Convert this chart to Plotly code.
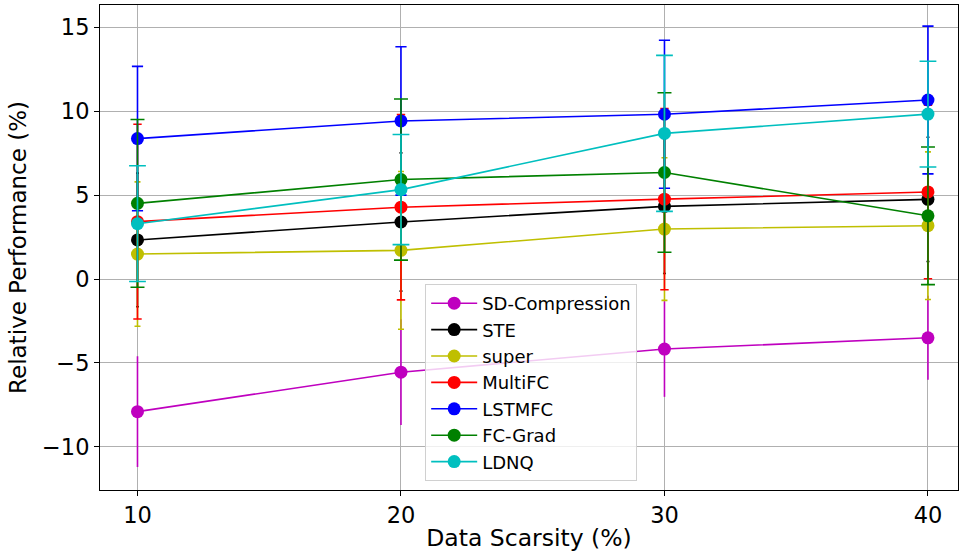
import plotly.graph_objects as go

# Data scarsity levels (%)
scarsity = [10, 20, 30, 40]

# Mean relative performance (%) and standard deviation for each method
methods = ["SD-Compression", "STE", "super", "MultiFC", "LSTMFC", "FC-Grad", "LDNQ"]
sd_compression = [-7.9, -5.55, -4.17, -3.5]
sd_compression_err = [3.3, 3.15, 2.85, 2.5]
ste = [2.33, 3.4, 4.33, 4.75]
ste_err = [3.98, 4.12, 4.0, 3.7]
super_ = [1.49, 1.71, 2.98, 3.18]
super_err = [4.3, 4.7, 4.25, 4.4]
multifc = [3.42, 4.28, 4.76, 5.19]
multifc_err = [5.8, 5.52, 5.4, 5.17]
lstmfc = [8.37, 9.42, 9.82, 10.67]
lstmfc_err = [4.3, 4.42, 4.41, 4.4]
fc_grad = [4.51, 5.93, 6.35, 3.77]
fc_grad_err = [5.0, 4.8, 4.75, 4.1]
ldnq = [3.3, 5.33, 8.68, 9.83]
ldnq_err = [3.45, 3.28, 4.65, 3.15]

series = [sd_compression, ste, super_, multifc, lstmfc, fc_grad, ldnq]
errors = [sd_compression_err, ste_err, super_err, multifc_err, lstmfc_err, fc_grad_err, ldnq_err]
colors = ["#bf00bf", "#000000", "#bfbf00", "#ff0000", "#0000ff", "#008000", "#00bfbf"]
cap_half_widths = [0, 1.5, 3, 4.2, 5.6, 7, 8.4]

fig = go.Figure()
for i, (name, ys, errs, col, cap) in enumerate(zip(methods, series, errors, colors, cap_half_widths)):
    fig.add_trace(go.Scatter(
        x=scarsity, y=ys, name=name, mode="lines+markers",
        line=dict(color=col, width=1.6),
        marker=dict(color=col, size=13),
        error_y=dict(type="data", array=errs, symmetric=True,
                     color=col, thickness=1.6, width=cap),
        legendgroup=f"g{i}",
    ))

axis_common = dict(
    showline=True, linecolor="#000000", linewidth=1, mirror=True,
    ticks="outside", ticklen=5, tickwidth=1, tickcolor="#000000",
    showgrid=True, gridcolor="#b0b0b0", gridwidth=1, zeroline=False,
    tickfont=dict(family="DejaVu Sans", size=22.5, color="#000000"),
)

fig.update_layout(
    width=959, height=552,
    margin=dict(l=100, r=1, t=5, b=62),
    paper_bgcolor="white", plot_bgcolor="white",
    font=dict(family="DejaVu Sans", color="#000000"),
    xaxis=dict(range=[8.577, 41.14], tickvals=scarsity,
               title=dict(text="Data Scarsity (%)", font=dict(size=23.5), standoff=2),
               **axis_common),
    yaxis=dict(range=[-12.57, 16.33], tickvals=[-10, -5, 0, 5, 10, 15],
               title=dict(text="Relative Performance (%)", font=dict(size=23), standoff=8),
               **axis_common),
    legend=dict(x=0.379, y=0.4247, xanchor="left", yanchor="top",
                bgcolor="rgba(255,255,255,0.8)", bordercolor="#d0d0d0", borderwidth=1,
                font=dict(size=18, family="DejaVu Sans"),
                traceorder="grouped", tracegroupgap=0, itemwidth=46),
    showlegend=True,
)

fig.write_html("out.html")
